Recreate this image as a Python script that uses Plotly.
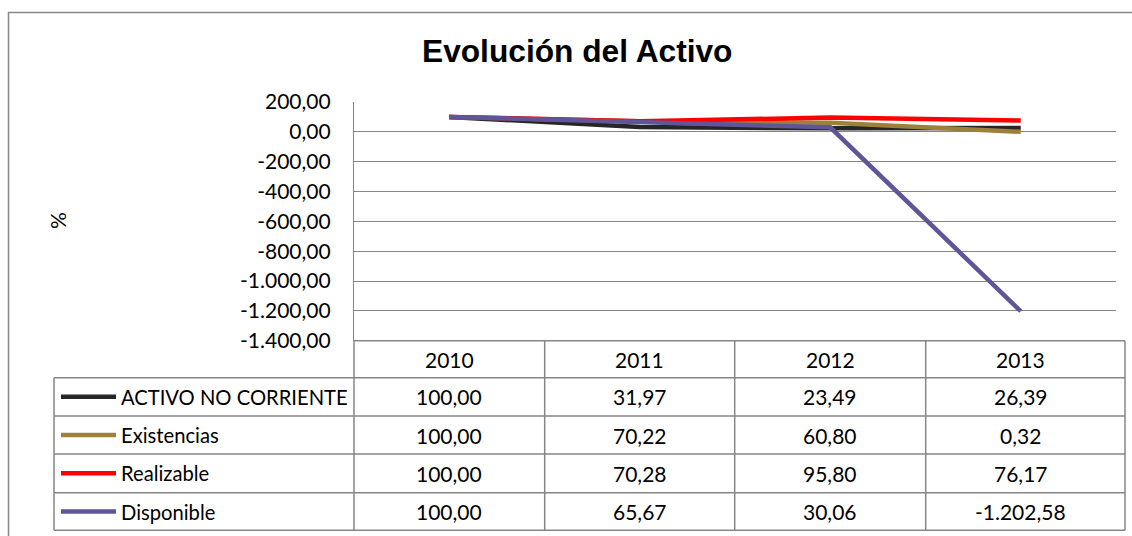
import plotly.graph_objects as go

years = ["2010", "2011", "2012", "2013"]
series_names = ["ACTIVO NO CORRIENTE", "Existencias", "Realizable", "Disponible"]
activo_nc = [100.00, 31.97, 23.49, 26.39]
existencias = [100.00, 70.22, 60.80, 0.32]
realizable = [100.00, 70.28, 95.80, 76.17]
disponible = [100.00, 65.67, 30.06, -1202.58]
colors = ["#262626", "#9d8139", "#ff0000", "#5f5597"]
y_ticks = [200, 0, -200, -400, -600, -800, -1000, -1200, -1400]

W, H = 1132, 536
GRID = "#868686"
FONT = "Lato, Calibri, sans-serif"


def fmt(v):
    # spanish number format: 1.202,58
    s = "{:,.2f}".format(abs(v))
    s = s.replace(",", "X").replace(".", ",").replace("X", ".")
    return ("-" if v < 0 else "") + s


def px(x):
    return x / W


def py(y):
    return 1 - y / H


values = [activo_nc, existencias, realizable, disponible]

fig = go.Figure()
for name, vals, col in zip(series_names, values, colors):
    fig.add_trace(go.Scatter(x=years, y=vals, mode="lines", name=name,
                             line=dict(color=col, width=4.5)))

# plot area in pixels
left, right, top, bottom = 354, 1116, 102, 340.7
tab_left, tab_right = 54, 1125
row_lines = [340.7, 377.7, 416, 454, 492.7, 530.3]
col_lines = [354, 544.7, 734.7, 925.7, tab_right]

shapes = []
# outer chart border (cut off at right/bottom)
shapes.append(dict(type="rect", xref="paper", yref="paper",
                   x0=px(8.5), x1=px(1140), y0=py(545), y1=py(12.5),
                   line=dict(color=GRID, width=1.5)))
# table horizontals
shapes.append(dict(type="line", xref="paper", yref="paper",
                   x0=px(left), x1=px(tab_right), y0=py(row_lines[0]), y1=py(row_lines[0]),
                   line=dict(color=GRID, width=1.5)))
for yl in row_lines[1:]:
    shapes.append(dict(type="line", xref="paper", yref="paper",
                       x0=px(tab_left), x1=px(tab_right), y0=py(yl), y1=py(yl),
                       line=dict(color=GRID, width=1.5)))
# table verticals
shapes.append(dict(type="line", xref="paper", yref="paper",
                   x0=px(tab_left), x1=px(tab_left), y0=py(row_lines[1]), y1=py(row_lines[-1]),
                   line=dict(color=GRID, width=1.5)))
for xl in col_lines:
    shapes.append(dict(type="line", xref="paper", yref="paper",
                       x0=px(xl), x1=px(xl), y0=py(row_lines[0]), y1=py(row_lines[-1]),
                       line=dict(color=GRID, width=1.5)))

annotations = []
annotations.append(dict(text="<b>Evolución del Activo</b>", x=px(577), y=py(51),
                        xref="paper", yref="paper", showarrow=False,
                        xanchor="center", yanchor="middle",
                        font=dict(family="Liberation Sans, Arial", size=31.7, color="#000")))
annotations.append(dict(text="%", x=px(57), y=py(221), xref="paper", yref="paper",
                        showarrow=False, textangle=-90, xanchor="center", yanchor="middle",
                        font=dict(family=FONT, size=21, color="#000")))

# header row with years (category index on x axis)
hdr_y = (row_lines[0] + row_lines[1]) / 2
for j, yr in enumerate(years):
    annotations.append(dict(text=yr, x=j, y=py(hdr_y), xref="x", yref="paper",
                            showarrow=False, xanchor="center", yanchor="middle",
                            font=dict(family=FONT, size=21, color="#000")))

for i, (name, vals, col) in enumerate(zip(series_names, values, colors)):
    yc = (row_lines[i + 1] + row_lines[i + 2]) / 2
    # legend key
    shapes.append(dict(type="line", xref="paper", yref="paper",
                       x0=px(61), x1=px(116), y0=py(yc), y1=py(yc),
                       line=dict(color=col, width=4.5)))
    annotations.append(dict(text=name, x=px(119), y=py(yc), xref="paper", yref="paper",
                            showarrow=False, xanchor="left", yanchor="middle",
                            font=dict(family=FONT, size=20.2, color="#000")))
    for j, v in enumerate(vals):
        annotations.append(dict(text=fmt(v), x=j, y=py(yc), xref="x", yref="paper",
                                showarrow=False, xanchor="center", yanchor="middle",
                                font=dict(family=FONT, size=21, color="#000")))

fig.update_layout(
    width=W, height=H,
    margin=dict(l=0, r=0, t=0, b=0),
    paper_bgcolor="white", plot_bgcolor="white",
    showlegend=False,
    shapes=shapes,
    annotations=annotations,
    xaxis=dict(domain=[px(left), px(right)], type="category", range=[-0.5, 3.5],
               showticklabels=False, showgrid=False, zeroline=False, ticks=""),
    yaxis=dict(domain=[py(bottom), py(top)], range=[-1400, 200],
               tickvals=y_ticks, ticktext=[fmt(v) for v in y_ticks],
               showgrid=True, gridcolor=GRID, gridwidth=1.3, zeroline=False,
               showline=True, linecolor=GRID, linewidth=1.3,
               ticks="", ticklabelstandoff=18, automargin=False,
               tickfont=dict(family=FONT, size=21, color="#000")),
)

fig.write_html("out.html", config={"displayModeBar": False},
               post_script="document.body.style.margin='0';")
